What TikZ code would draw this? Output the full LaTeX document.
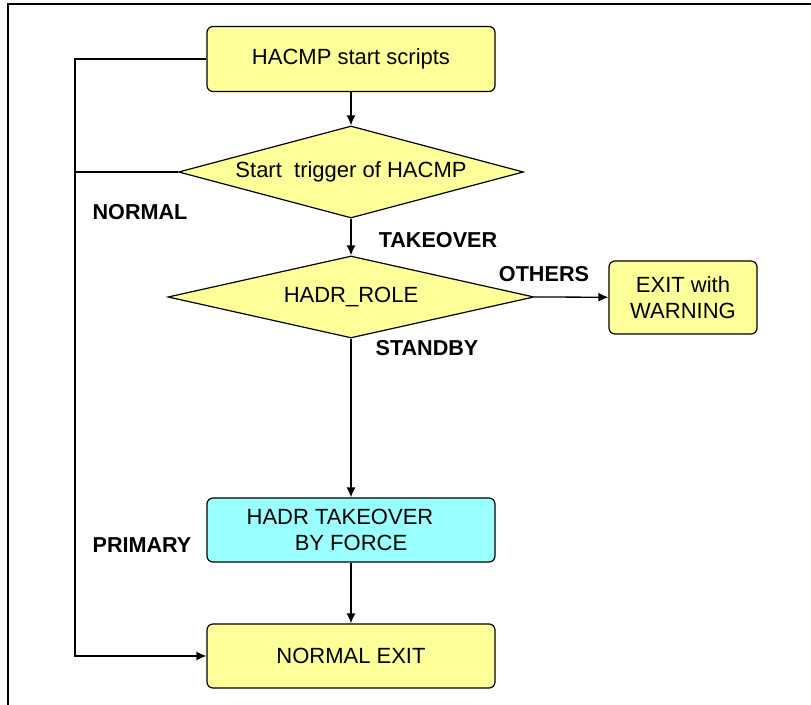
\documentclass[tikz,border=0pt]{standalone}
\usepackage{fontspec}
\setmainfont{Liberation Sans}
\usetikzlibrary{shapes.geometric,arrows.meta}
\definecolor{hayellow}{HTML}{FFFF99}
\definecolor{hacyan}{HTML}{99FFFF}

\tikzset{
  procbox/.style={draw, line width=0.6pt, rounded corners=3pt,
    fill=hayellow, minimum width=144pt, minimum height=32pt,
    align=center, inner sep=2pt},
  decision/.style={draw, line width=0.6pt, diamond, fill=hayellow,
    inner sep=0pt},
  flow/.style={line width=0.65pt, -{Latex[length=5pt,width=4.5pt]}},
  rail/.style={line width=0.65pt},
  branch/.style={font=\fontsize{10.8}{13}\selectfont\bfseries}
}

\begin{document}
\begin{tikzpicture}[x=0.5pt, y=-0.5pt, font=\fontsize{11}{13}\selectfont]
  \useasboundingbox (0,0) rectangle (811,705);
  % frame
  \draw[line width=0.75pt] (8,705) -- (8,4) -- (811,4);

  % steps
  \node[procbox, minimum height=32.5pt] (start) at (351,59) {HACMP start scripts};
  \node[decision, aspect=3.75, minimum width=172.5pt, minimum height=46pt] (trigger)
    at (351,172) {Start\ \ trigger of HACMP};
  \node[decision, aspect=4.46, minimum width=183pt, minimum height=41pt] (role)
    at (351,297) {HADR\_ROLE};
  \node[procbox, minimum width=74pt, minimum height=36.5pt] (warn) at (683,297.5)
    {EXIT with\\WARNING};
  \node[procbox, fill=hacyan] (force) at (351,530)
    {HADR TAKEOVER\hspace*{11pt}\\BY FORCE};
  \node[procbox] (normexit) at (351,656) {NORMAL EXIT};

  % branch labels
  \node[branch] (lnormal) at (140,212) {NORMAL};
  \node[branch] (ltakeover) at (438,240) {TAKEOVER};
  \node[branch] (lothers) at (544,274) {OTHERS};
  \node[branch] (lstandby) at (427,348) {STANDBY};
  \node[branch] (lprimary) at (142,545) {PRIMARY};

  % connectors
  \coordinate (railtop) at (75,59);
  \draw[flow] (start) -- (trigger);
  \draw[flow] (trigger) -- (role);
  \draw[flow] (role.east) -- (warn);
  \draw[flow] (role) -- (force);
  \draw[flow] (force) -- (normexit);
  \draw[flow] (start.west) -- (railtop) |- (normexit.west);
  \draw[rail] (trigger.west) -- (trigger.west -| railtop);
\end{tikzpicture}
\end{document}
